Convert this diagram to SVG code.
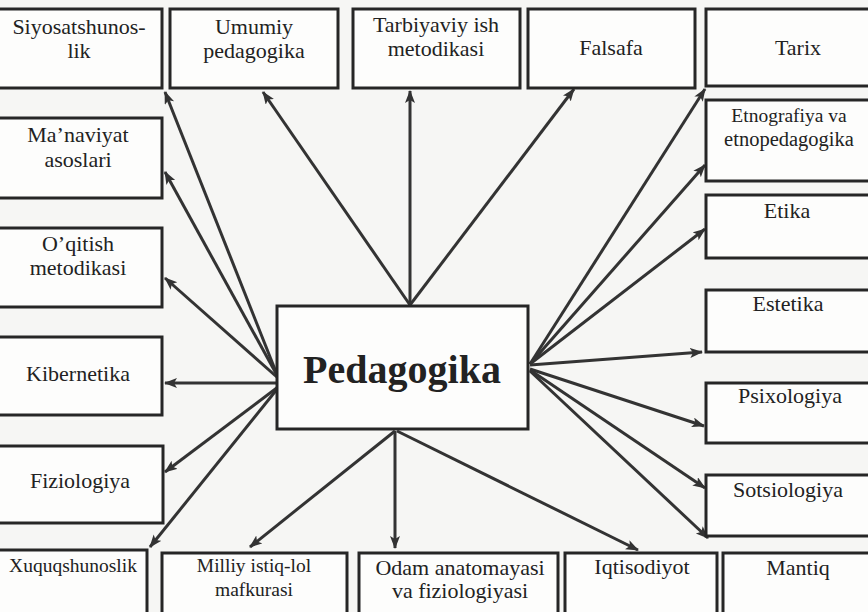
<svg xmlns="http://www.w3.org/2000/svg" width="868" height="612" viewBox="0 0 868 612">
<defs>
<style>
.box{fill:#fdfdfc;stroke:#262626;stroke-width:3}
.t{font-family:"Liberation Serif","Times New Roman",serif;font-size:22px;fill:#222;text-anchor:middle}
.s{font-size:19.5px}
.m{font-size:20.5px}
.big{font-family:"Liberation Serif","Times New Roman",serif;font-size:40px;font-weight:bold;fill:#222;text-anchor:middle}
.c{stroke:#333;stroke-width:3;fill:none;marker-end:url(#ah)}
</style>
<marker id="ah" markerUnits="userSpaceOnUse" markerWidth="14" markerHeight="12" refX="12" refY="5" orient="auto">
<path d="M0,0 L13,5 L0,10 L3,5 Z" fill="#333"/>
</marker>
</defs>
<rect width="868" height="612" fill="#f6f6f4"/>
<g id="connectors">
<line class="c" x1="278" y1="377" x2="165" y2="92"/>
<line class="c" x1="278" y1="377" x2="165" y2="172"/>
<line class="c" x1="278" y1="378" x2="165" y2="278"/>
<line class="c" x1="278" y1="383" x2="165" y2="383"/>
<line class="c" x1="278" y1="387" x2="165" y2="472"/>
<line class="c" x1="278" y1="388" x2="150" y2="547"/>
<line class="c" x1="410" y1="305" x2="263" y2="92"/>
<line class="c" x1="410" y1="305" x2="410" y2="91"/>
<line class="c" x1="410" y1="305" x2="574" y2="89"/>
<line class="c" x1="530" y1="364" x2="705" y2="89"/>
<line class="c" x1="530" y1="364" x2="705" y2="165"/>
<line class="c" x1="530" y1="364" x2="705" y2="229"/>
<line class="c" x1="530" y1="365" x2="702" y2="352"/>
<line class="c" x1="530" y1="369" x2="704" y2="426"/>
<line class="c" x1="530" y1="370" x2="705" y2="488"/>
<line class="c" x1="530" y1="371" x2="708" y2="538"/>
<line class="c" x1="395" y1="431" x2="250" y2="547"/>
<line class="c" x1="395" y1="431" x2="395" y2="548"/>
<line class="c" x1="397" y1="431" x2="638" y2="550"/>
</g>
<g id="center"><rect class="box" x="277" y="306" width="251" height="123"/><text class="big" x="402" y="383">Pedagogika</text></g>
<g id="siyosat"><rect class="box" x="-2" y="9" width="164" height="79"/><text class="t" x="79" y="34">Siyosatshunos-</text><text class="t" x="79" y="58">lik</text></g>
<g id="umumiy"><rect class="box" x="170" y="9" width="168" height="79"/><text class="t" x="254" y="34">Umumiy</text><text class="t" x="254" y="58">pedagogika</text></g>
<g id="tarbiyaviy"><rect class="box" x="353" y="9" width="167" height="79"/><text class="t" x="436" y="32">Tarbiyaviy ish</text><text class="t" x="436" y="56">metodikasi</text></g>
<g id="falsafa"><rect class="box" x="528" y="9" width="167" height="79"/><text class="t" x="611" y="55">Falsafa</text></g>
<g id="tarix"><rect class="box" x="706" y="9" width="166" height="77"/><text class="t" x="798" y="55">Tarix</text></g>
<g id="etnografiya"><rect class="box" x="706" y="100" width="166" height="81"/><text class="t s" x="789" y="122">Etnografiya va</text><text class="t m" x="789" y="146">etnopedagogika</text></g>
<g id="etika"><rect class="box" x="706" y="195" width="166" height="63"/><text class="t" x="787" y="218">Etika</text></g>
<g id="estetika"><rect class="box" x="706" y="290" width="166" height="62"/><text class="t" x="788" y="311">Estetika</text></g>
<g id="psixologiya"><rect class="box" x="706" y="383" width="166" height="60"/><text class="t" x="790" y="403">Psixologiya</text></g>
<g id="sotsiologiya"><rect class="box" x="706" y="475" width="166" height="61"/><text class="t" x="788" y="497">Sotsiologiya</text></g>
<g id="mantiq"><rect class="box" x="723" y="553" width="149" height="64"/><text class="t" x="798" y="575">Mantiq</text></g>
<g id="iqtisodiyot"><rect class="box" x="565" y="553" width="152" height="64"/><text class="t" x="642" y="574">Iqtisodiyot</text></g>
<g id="odam"><rect class="box" x="359" y="553" width="199" height="64"/><text class="t" x="460" y="575">Odam anatomayasi</text><text class="t" x="460" y="598">va fiziologiyasi</text></g>
<g id="milliy"><rect class="box" x="162" y="553" width="185" height="64"/><text class="t s" x="254" y="572">Milliy istiq-lol</text><text class="t s" x="254" y="596">mafkurasi</text></g>
<g id="xuquq"><rect class="box" x="-2" y="550" width="149" height="67"/><text class="t s" x="73" y="572">Xuquqshunoslik</text></g>
<g id="manaviyat"><rect class="box" x="-2" y="118" width="164" height="80"/><text class="t" x="78" y="142">Ma’naviyat</text><text class="t" x="78" y="167">asoslari</text></g>
<g id="oqitish"><rect class="box" x="-2" y="228" width="164" height="79"/><text class="t" x="78" y="251">O’qitish</text><text class="t" x="78" y="275">metodikasi</text></g>
<g id="kibernetika"><rect class="box" x="-2" y="337" width="164" height="78"/><text class="t" x="78" y="381">Kibernetika</text></g>
<g id="fiziologiya"><rect class="box" x="-2" y="446" width="165" height="77"/><text class="t" x="80" y="488">Fiziologiya</text></g>
</svg>
